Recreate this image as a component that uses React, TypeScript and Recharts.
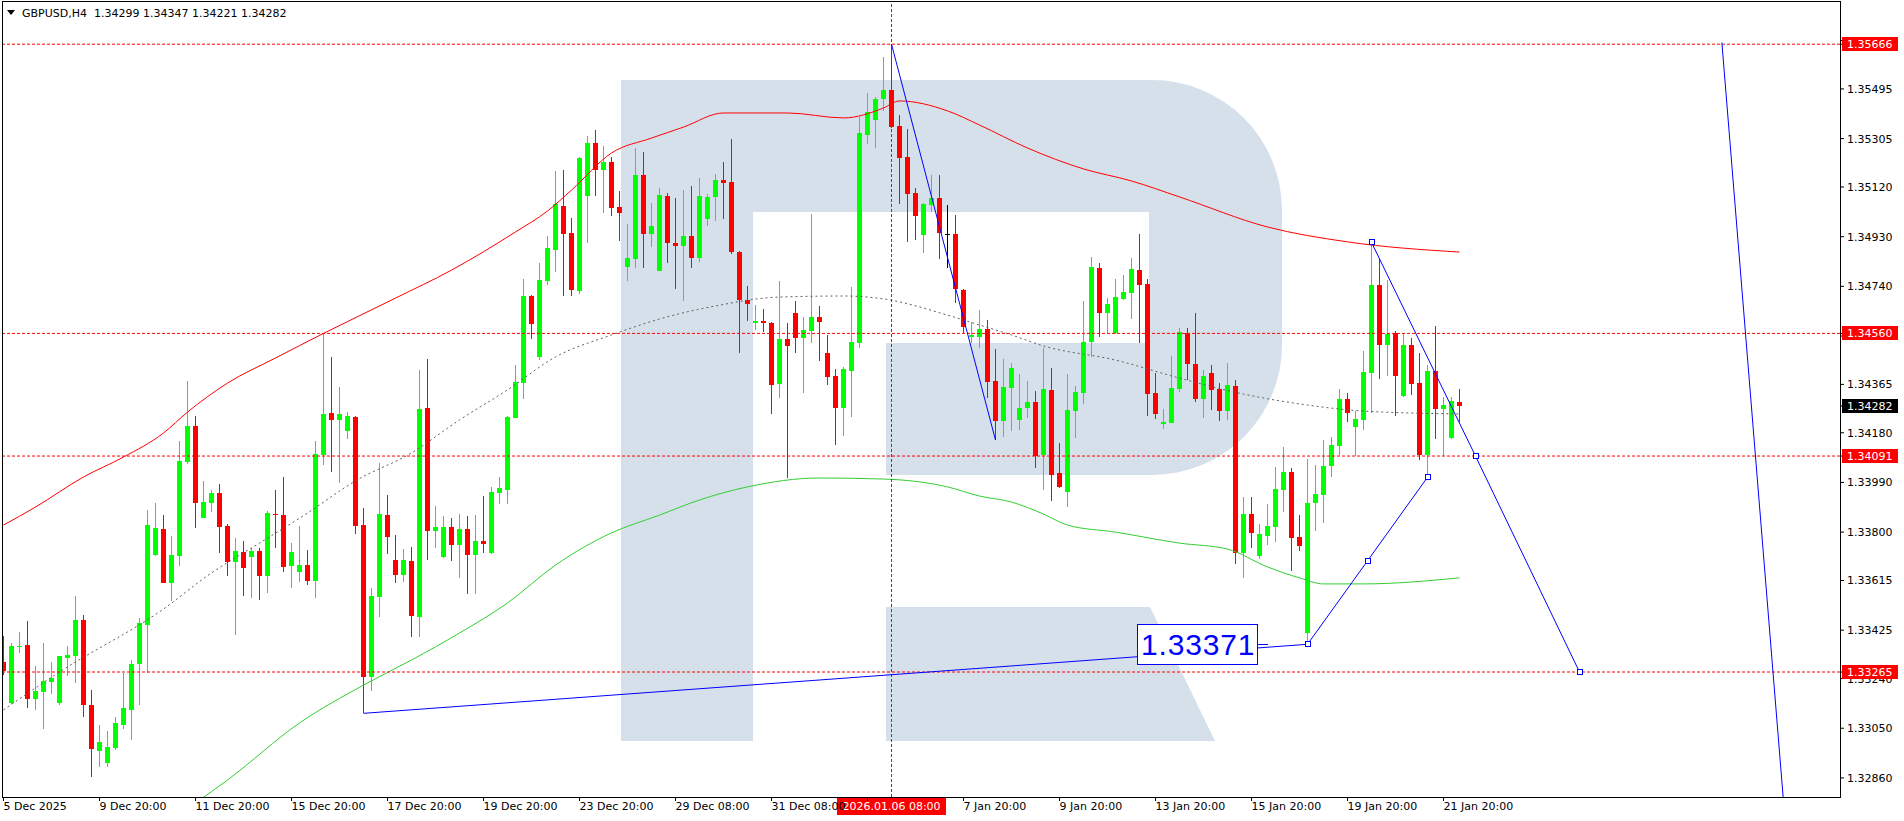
import React from 'react';
import { ComposedChart, Bar, Line, XAxis, YAxis, ReferenceLine, ReferenceDot } from 'recharts';

// ---------------- data (GBPUSD H4) ----------------
const opens = [
1.33304,1.33145,1.33362,1.33368,1.33161,1.33190,1.33228,1.33148,1.33320,1.33326,
1.33464,1.33139,1.32964,1.32918,1.32973,1.33062,1.33120,1.33296,1.33445,1.33712,
1.33812,1.33606,1.33709,1.34069,1.34207,1.33855,1.33912,1.33948,1.33823,1.33687,
1.33723,1.33706,1.33728,1.33633,1.33868,1.33865,1.33672,1.33649,1.33674,1.33614,
1.34095,1.34254,1.34229,1.34188,1.34241,1.33827,1.33247,1.33553,1.33865,1.33693,
1.33636,1.33690,1.33477,1.34274,1.33804,1.33706,1.33821,1.33751,1.33812,1.33712,
1.33766,1.33719,1.33951,1.33961,1.34238,1.34370,1.34703,1.34469,1.34760,1.34879,
1.35047,1.34945,1.34722,1.35085,1.35289,1.35185,1.35217,1.35042,1.34813,1.34845,
1.35166,1.34940,1.34799,1.35085,1.34905,1.34895,1.34932,1.34850,1.34998,1.35083,
1.35147,1.35138,1.34872,1.34688,1.34599,1.34609,1.34601,1.34366,1.34539,1.34637,
1.34544,1.34569,1.34624,1.34486,1.34397,1.34276,1.34416,1.34522,1.35319,1.35376,
1.35456,1.35491,1.35353,1.35236,1.35098,1.34936,1.35051,1.35077,1.34939,1.34940,
1.34726,1.34547,1.34547,1.34576,1.34378,1.34226,1.34352,1.34229,1.34274,1.34296,
1.34095,1.34343,1.34025,1.33955,1.34264,1.34331,1.34528,1.34809,1.34637,1.34560,
1.34692,1.34716,1.34802,1.34748,1.34331,1.34214,1.34218,1.34347,1.34560,1.34443,
1.34309,1.34407,1.34347,1.34264,1.34360,1.33722,1.33869,1.33710,1.33786,1.33821,
1.33961,1.34030,1.33780,1.33413,1.33912,1.33942,1.34054,1.34130,1.34309,1.34203,
1.34229,1.34407,1.34745,1.34516,1.34560,1.34321,1.34516,1.34371,1.34095,1.34416,
1.34271,1.34159,1.34299
];
const highs = [
1.33403,1.33375,1.33419,1.33461,1.33289,1.33377,1.33304,1.33328,1.33364,1.33556,
1.33483,1.33196,1.33062,1.33041,1.33094,1.33262,1.33311,1.33470,1.33885,1.33910,
1.33865,1.33785,1.34148,1.34378,1.34244,1.33995,1.33961,1.33984,1.33831,1.33779,
1.33766,1.33740,1.33738,1.33881,1.33961,1.34010,1.33757,1.33825,1.33732,1.34148,
1.34560,1.34469,1.34356,1.34260,1.34245,1.33891,1.33585,1.34063,1.33942,1.33789,
1.33735,1.33744,1.34420,1.34462,1.33900,1.33862,1.33855,1.33869,1.33862,1.33865,
1.33938,1.33974,1.34012,1.34245,1.34439,1.34768,1.34705,1.34830,1.34932,1.35181,
1.35185,1.35000,1.35236,1.35316,1.35338,1.35278,1.35236,1.35106,1.34978,1.35268,
1.35255,1.35058,1.35115,1.35098,1.35077,1.35108,1.35124,1.35153,1.35093,1.35170,
1.35217,1.35303,1.34876,1.34741,1.34669,1.34652,1.34603,1.34760,1.34601,1.34684,
1.34622,1.35017,1.34665,1.34554,1.34424,1.34433,1.34739,1.35389,1.35478,1.35465,
1.35618,1.35666,1.35395,1.35340,1.35117,1.35060,1.35166,1.35166,1.35051,1.35013,
1.34729,1.34605,1.34649,1.34611,1.34500,1.34461,1.34448,1.34405,1.34378,1.34340,
1.34503,1.34426,1.34140,1.34405,1.34359,1.34685,1.34851,1.34828,1.34697,1.34767,
1.34783,1.34850,1.34940,1.34767,1.34410,1.34270,1.34474,1.34582,1.34579,1.34639,
1.34420,1.34439,1.34369,1.34447,1.34382,1.33933,1.33933,1.33831,1.33907,1.34050,
1.34127,1.34044,1.33865,1.34078,1.34057,1.34152,1.34165,1.34347,1.34331,1.34264,
1.34493,1.34908,1.34845,1.34764,1.34569,1.34560,1.34544,1.34484,1.34439,1.34588,
1.34316,1.34316,1.34347
];
const lows = [
1.33254,1.33143,1.33339,1.33129,1.33120,1.33047,1.33181,1.33138,1.33251,1.33224,
1.33094,1.32865,1.32901,1.32903,1.32967,1.33047,1.33005,1.33139,1.33262,1.33710,
1.33604,1.33538,1.33670,1.34060,1.33817,1.33853,1.33878,1.33721,1.33633,1.33407,
1.33556,1.33549,1.33540,1.33568,1.33740,1.33649,1.33587,1.33610,1.33598,1.33549,
1.34057,1.34031,1.33989,1.34156,1.33793,1.33107,1.33194,1.33477,1.33716,1.33606,
1.33610,1.33400,1.33400,1.33693,1.33740,1.33702,1.33690,1.33626,1.33563,1.33563,
1.33721,1.33716,1.33907,1.33907,1.34235,1.34309,1.34537,1.34458,1.34745,1.34794,
1.34704,1.34703,1.34710,1.34905,1.35085,1.35019,1.35009,1.34913,1.34760,1.34811,
1.34811,1.34892,1.34797,1.34830,1.34730,1.34685,1.34809,1.34834,1.34971,1.34991,
1.34998,1.34864,1.34486,1.34607,1.34573,1.34567,1.34252,1.34314,1.34006,1.34486,
1.34333,1.34524,1.34454,1.34363,1.34133,1.34168,1.34241,1.34503,1.35284,1.35270,
1.35412,1.35345,1.35055,1.34911,1.34917,1.34869,1.35023,1.34845,1.34811,1.34677,
1.34560,1.34524,1.34503,1.34312,1.34152,1.34165,1.34188,1.34190,1.34238,1.34044,
1.33961,1.33920,1.33970,1.33897,1.34159,1.34289,1.34469,1.34547,1.34560,1.34558,
1.34688,1.34615,1.34524,1.34245,1.34233,1.34193,1.34216,1.34337,1.34382,1.34296,
1.34238,1.34267,1.34226,1.34229,1.33678,1.33623,1.33738,1.33697,1.33751,1.33761,
1.33878,1.33652,1.33729,1.33371,1.33805,1.33836,1.34012,1.34095,1.34222,1.34091,
1.34190,1.34254,1.34386,1.34398,1.34244,1.34316,1.34324,1.34076,1.34010,1.34156,
1.34091,1.34155,1.34221
];
const closes = [
1.33270,1.33364,1.33364,1.33162,1.33192,1.33231,1.33243,1.33326,1.33330,1.33464,
1.33139,1.32969,1.32998,1.32979,1.33071,1.33126,1.33296,1.33451,1.33827,1.33815,
1.33606,1.33712,1.34072,1.34207,1.33912,1.33915,1.33948,1.33821,1.33687,1.33728,
1.33664,1.33728,1.33633,1.33872,1.33865,1.33668,1.33723,1.33674,1.33614,1.34099,
1.34252,1.34229,1.34252,1.34244,1.33825,1.33247,1.33556,1.33869,1.33782,1.33636,
1.33693,1.33480,1.34271,1.33804,1.33821,1.33821,1.33751,1.33812,1.33712,1.33766,
1.33754,1.33955,1.33968,1.34241,1.34373,1.34703,1.34596,1.34764,1.34885,1.35054,
1.34939,1.34726,1.35230,1.35289,1.35185,1.35217,1.35041,1.35022,1.34850,1.35166,
1.34940,1.34971,1.35089,1.34907,1.34895,1.34932,1.34850,1.35085,1.35080,1.35147,
1.35136,1.34872,1.34688,1.34671,1.34609,1.34601,1.34363,1.34537,1.34512,1.34544,
1.34573,1.34624,1.34605,1.34394,1.34276,1.34424,1.34528,1.35325,1.35408,1.35456,
1.35491,1.35350,1.35232,1.35093,1.35009,1.35055,1.35077,1.34943,1.34939,1.34729,
1.34586,1.34554,1.34576,1.34375,1.34226,1.34354,1.34426,1.34274,1.34296,1.34092,
1.34346,1.34018,1.33974,1.34267,1.34335,1.34528,1.34813,1.34637,1.34671,1.34698,
1.34717,1.34806,1.34745,1.34328,1.34251,1.34220,1.34350,1.34564,1.34442,1.34309,
1.34397,1.34343,1.34264,1.34363,1.33722,1.33869,1.33798,1.33793,1.33823,1.33965,
1.34030,1.33779,1.33748,1.33910,1.33946,1.34053,1.34133,1.34309,1.34254,1.34233,
1.34411,1.34745,1.34516,1.34558,1.34397,1.34516,1.34366,1.34095,1.34416,1.34271,
1.34286,1.34301,1.34282
];

// moving-average style lines (bar index -> price)
const redIdx = [0,4,10,15,20,23,28,34,40,49,56,64,68,71,76,81,85,90,98,105,110,112,118,122,128,135,141,147,158,168,182];
const redVal = [1.33827,1.33896,1.34011,1.34087,1.34179,1.34259,1.34370,1.34466,1.34560,1.34695,1.34802,1.34948,1.35028,1.35108,1.35250,1.35307,1.35349,1.35403,1.35403,1.35384,1.35422,1.35449,1.35411,1.35357,1.35269,1.35189,1.35143,1.35082,1.34967,1.34910,1.34871];
const greenIdx = [24,28,37,45,51,57,63,69,76,82,87,93,102,110,118,122,126,130,133,139,147,153,158,162,165,170,182];
const greenVal = [1.32764,1.32852,1.33070,1.33215,1.33311,1.33414,1.33529,1.33674,1.33797,1.33865,1.33923,1.33973,1.34007,1.34003,1.33973,1.33938,1.33915,1.33869,1.33827,1.33800,1.33758,1.33735,1.33667,1.33625,1.33602,1.33602,1.33625];
const grayIdx = [0,7,20,26,32,38,44,51,57,63,69,76,82,89,97,105,110,118,122,126,130,139,147,155,163,170,182];
const grayVal = [1.33120,1.33265,1.33506,1.33644,1.33758,1.33873,1.33996,1.34103,1.34229,1.34344,1.34470,1.34554,1.34615,1.34665,1.34699,1.34703,1.34692,1.34630,1.34592,1.34554,1.34512,1.34458,1.34389,1.34328,1.34286,1.34263,1.34252];

// axis ticks / labels
const xTickIdx = [0,12,24,36,48,60,72,84,96,108,120,132,144,156,168,180];
const xTickLabels = ['5 Dec 2025','9 Dec 20:00','11 Dec 20:00','15 Dec 20:00','17 Dec 20:00','19 Dec 20:00','23 Dec 20:00','29 Dec 08:00','31 Dec 08:00','','7 Jan 20:00','9 Jan 20:00','13 Jan 20:00','15 Jan 20:00','19 Jan 20:00','21 Jan 20:00'];
const yTicks = [1.35680,1.35495,1.35305,1.35120,1.34930,1.34740,1.34550,1.34365,1.34180,1.33990,1.33800,1.33615,1.33425,1.33240,1.33050,1.32860];

// horizontal levels, current price, time marker
const levelPrices = [1.35666, 1.34560, 1.34091, 1.33265];
const lastPrice = 1.34282;
const markerIdx = 111;
const markerText = '2026.01.06 08:00';
const symbolText = 'GBPUSD,H4';

// drawn objects (bar index, price)
const trendA = [[111, 1.35666], [124, 1.34152]];
const trendB = [[45, 1.33107], [163, 1.33371]];
const pathUp = [[163, 1.33371], [170.5, 1.33690], [178, 1.34010]];
const pathDown = [[171, 1.34908], [184, 1.34091], [197, 1.33265]];
const farLine = [[214.8, 1.35672], [222.5, 1.32770]];
const boxIdx = 149.2;
const boxPrice = 1.33371;
const boxText = '1.33371';

// ---------------- layout ----------------
const W = 1904;
const H = 821;
const FONT = '"DejaVu Sans", Tahoma, sans-serif';
const BULL = '#00ff00';
const BEAR = '#ff0000';
const DOJI = '#000000';
const BLUE = '#0000ff';
const X_DOMAIN: [number, number] = [-0.1875, 229.5625];
const Y_DOMAIN: [number, number] = [1.32787, 1.358274];

const N = Math.min(opens.length, highs.length, lows.length, closes.length);
const rows: any[] = [];
for (let i = 0; i < N; i++) {
  rows.push({ i, open: opens[i], high: highs[i], low: lows[i], close: closes[i], range: [lows[i], highs[i]], red: null, green: null, gray: null });
}
redIdx.forEach((k, j) => { if (rows[k]) rows[k].red = redVal[j]; });
greenIdx.forEach((k, j) => { if (rows[k]) rows[k].green = greenVal[j]; });
grayIdx.forEach((k, j) => { if (rows[k]) rows[k].gray = grayVal[j]; });

// tags are appended after the plain ticks so they are painted on top of them
const tagColor = (v: number): string | null => {
  if (Math.abs(v - lastPrice) < 1e-9) return '#000000';
  for (const p of levelPrices) if (Math.abs(v - p) < 1e-9) return '#ff0000';
  return null;
};
const allYTicks = [...yTicks, ...levelPrices, lastPrice];

function Candle(props: any) {
  const { x, y, width, height, payload } = props;
  if (!payload || x == null || y == null || height == null) return null;
  const { open, high, low, close } = payload;
  const top = Math.min(y, y + height);
  const h = Math.abs(height);
  const span = high - low || 1e-9;
  const toY = (p: number) => top + ((high - p) / span) * h;
  const col = close > open ? BULL : close < open ? BEAR : DOJI;
  const cx = Math.floor(x + width / 2) + 0.5;
  const yTop = Math.round(toY(Math.max(open, close)));
  const yBot = Math.round(toY(Math.min(open, close)));
  const bodyH = Math.max(1, yBot - yTop);
  return (
    <g>
      <line x1={cx} x2={cx} y1={Math.round(top)} y2={Math.round(top + h)} stroke={col} strokeWidth={1} />
      <rect x={cx - 2.5} y={yTop} width={5} height={bodyH} fill={col} />
    </g>
  );
}

function XTick(props: any) {
  const { x, y, payload } = props;
  const k = xTickIdx.indexOf(payload.value);
  const label = k >= 0 ? xTickLabels[k] : '';
  return (
    <text x={x} y={y + 7} fontSize={11} fontFamily={FONT} fill="#000" textAnchor="start">{label}</text>
  );
}

function YTick(props: any) {
  const { x, y, payload } = props;
  const v = Number(payload.value);
  const col = tagColor(v);
  if (col) {
    const yy = Math.round(y);
    return (
      <g>
        <rect x={x - 4} y={yy - 7} width={56} height={14} fill={col} />
        <text x={x + 1} y={yy + 4} fontSize={11} fontFamily={FONT} fill="#fff" textAnchor="start">{v.toFixed(5)}</text>
      </g>
    );
  }
  return (
    <text x={x + 1} y={y + 4} fontSize={11} fontFamily={FONT} fill="#000" textAnchor="start">{v.toFixed(5)}</text>
  );
}

function TimeTag(props: any) {
  const { viewBox, text } = props;
  if (!viewBox) return null;
  const cx = viewBox.x;
  const y = viewBox.y + viewBox.height;
  return (
    <g>
      <rect x={Math.round(cx - 54.5)} y={y + 1} width={109} height={17} fill="#ff0000" />
      <text x={cx} y={y + 13} fontSize={11} fontFamily={FONT} fill="#fff" textAnchor="middle">{text}</text>
    </g>
  );
}

function Square(props: any) {
  const { cx, cy } = props;
  if (cx == null || cy == null) return null;
  return <rect x={Math.round(cx) - 2.5} y={Math.round(cy) - 2.5} width={5} height={5} fill="#fff" stroke={BLUE} strokeWidth={1} />;
}

function PriceBox(props: any) {
  const { cx, cy } = props;
  if (cx == null || cy == null) return null;
  return (
    <g>
      <rect x={Math.round(cx - 60) + 0.5} y={Math.round(cy - 20) + 0.5} width={120} height={40} fill="#fff" stroke={BLUE} strokeWidth={1} />
      <text x={cx - 56} y={cy + 11} fontSize={30} fontFamily='"Liberation Sans", Arial, sans-serif' fill={BLUE} letterSpacing={0.8}>{boxText}</text>
      <line x1={cx + 61} x2={cx + 71} y1={Math.round(cy) + 0.5} y2={Math.round(cy) + 0.5} stroke={BLUE} />
    </g>
  );
}

const seg = (a: number[], b: number[]) => [{ x: a[0], y: a[1] }, { x: b[0], y: b[1] }];

export default function App() {
  const segments: number[][][] = [trendA, trendB];
  for (let k = 0; k < pathUp.length - 1; k++) segments.push([pathUp[k], pathUp[k + 1]]);
  for (let k = 0; k < pathDown.length - 1; k++) segments.push([pathDown[k], pathDown[k + 1]]);
  const markers = [...pathUp, ...pathDown];
  const last = N - 1;
  const titleNums = [opens[last], highs[last], lows[last], closes[last]].map((v) => v.toFixed(5)).join(' ');

  return (
    <div style={{ position: 'absolute', left: 0, top: 0, width: W, height: H, background: '#fff', overflow: 'hidden' }}>
      {/* watermark logo (decoration) */}
      <svg width={W} height={H} style={{ position: 'absolute', left: 0, top: 0 }}>
        <path d="M621,80 H1152 A130,130 0 0 1 1282,210 V345 A130,130 0 0 1 1152,475 H886 V343 H1149 V212 H753 V741 H621 Z" fill="#d6e0eb" />
        <path d="M886,607 H1150 L1215,741 H886 Z" fill="#d6e0eb" />
      </svg>
      <div style={{ position: 'absolute', left: 0, top: 0 }}>
        <ComposedChart width={W} height={H} data={rows} margin={{ top: 2, right: 0, bottom: 0, left: 2 }}>
          <XAxis dataKey="i" type="number" domain={X_DOMAIN} allowDataOverflow ticks={xTickIdx} interval={0}
            tick={<XTick />} tickLine={{ stroke: '#000' }} tickSize={4} axisLine={false} height={24} />
          <YAxis orientation="right" type="number" domain={Y_DOMAIN} allowDataOverflow ticks={allYTicks} interval={0}
            tick={<YTick />} tickLine={{ stroke: '#000' }} tickSize={4} axisLine={false} width={64} />
          <Bar dataKey="range" barSize={5} shape={(p: any) => <Candle {...p} />} isAnimationActive={false} />
          <Line dataKey="red" type="monotone" stroke="#ff0000" strokeWidth={1} dot={false} activeDot={false} connectNulls isAnimationActive={false} />
          <Line dataKey="green" type="monotone" stroke="#32cd32" strokeWidth={1} dot={false} activeDot={false} connectNulls isAnimationActive={false} />
          <Line dataKey="gray" type="monotone" stroke="#5f5f5f" strokeWidth={1} strokeDasharray="2 3" dot={false} activeDot={false} connectNulls isAnimationActive={false} />
          <ReferenceDot x={boxIdx} y={boxPrice} shape={(p: any) => <PriceBox {...p} />} />
          {levelPrices.map((v) => (
            <ReferenceLine key={'lv' + v} y={v} stroke="#ff0000" strokeDasharray="3 2" strokeWidth={1} />
          ))}
          <ReferenceLine x={markerIdx} stroke="#ff0000" strokeDasharray="3 2" strokeWidth={1} label={<TimeTag text={markerText} />} />
          {segments.map((s, k) => (
            <ReferenceLine key={'sg' + k} segment={seg(s[0], s[1])} stroke={BLUE} strokeWidth={1} ifOverflow="visible" />
          ))}
          <ReferenceLine segment={seg(farLine[0], farLine[1])} stroke={BLUE} strokeWidth={1} ifOverflow="hidden" />
          {markers.map((m, k) => (
            <ReferenceDot key={'mk' + k} x={m[0]} y={m[1]} shape={(p: any) => <Square {...p} />} />
          ))}
        </ComposedChart>
      </div>
      <svg width={W} height={H} style={{ position: 'absolute', left: 0, top: 0, pointerEvents: 'none' }}>
        <rect x={2.5} y={1.5} width={1838} height={796} fill="none" stroke="#000" strokeWidth={1} />
        <polygon points="7,10 15,10 11,15" fill="#000" />
        <text x={22} y={17} fontSize={11} fontFamily={FONT} fill="#000" style={{ whiteSpace: 'pre' }}>{symbolText + '  ' + titleNums}</text>
      </svg>
    </div>
  );
}
